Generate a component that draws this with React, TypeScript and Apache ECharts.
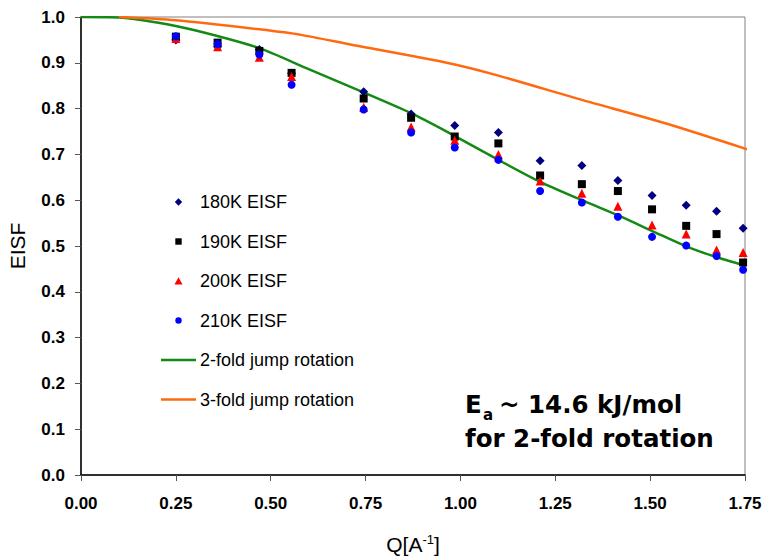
import React, { useEffect, useRef } from "react";
import * as echarts from "echarts";

const qValues = [0.25, 0.36, 0.47, 0.555, 0.745, 0.87, 0.985, 1.1, 1.21, 1.32, 1.415, 1.505, 1.595, 1.675, 1.745];
const eisf180 = [0.95, 0.935, 0.929, 0.877, 0.837, 0.788, 0.763, 0.748, 0.686, 0.676, 0.643, 0.61, 0.589, 0.576, 0.539];
const eisf190 = [0.957, 0.944, 0.926, 0.878, 0.822, 0.78, 0.739, 0.724, 0.654, 0.635, 0.62, 0.58, 0.544, 0.526, 0.464];
const eisf200 = [0.953, 0.935, 0.912, 0.87, 0.803, 0.76, 0.731, 0.7, 0.642, 0.615, 0.587, 0.546, 0.526, 0.491, 0.486];
const eisf210 = [0.958, 0.941, 0.918, 0.852, 0.798, 0.748, 0.715, 0.688, 0.62, 0.595, 0.564, 0.52, 0.501, 0.478, 0.448];

const twoFoldQ = [0, 0.1, 0.2, 0.3, 0.47, 0.6, 0.74, 0.87, 0.97, 1.1, 1.21, 1.32, 1.42, 1.51, 1.59, 1.67, 1.75];
const twoFoldV = [1.0, 0.999, 0.988, 0.971, 0.932, 0.886, 0.837, 0.79, 0.747, 0.688, 0.64, 0.6, 0.565, 0.531, 0.501, 0.477, 0.457];

const threeFoldQ = [0.1, 0.25, 0.47, 0.58, 0.71, 0.97, 1.1, 1.32, 1.54, 1.76];
const threeFoldV = [1.0, 0.993, 0.973, 0.961, 0.94, 0.899, 0.872, 0.819, 0.768, 0.71];

const seriesNames = ["180K EISF", "190K EISF", "200K EISF", "210K EISF", "2-fold jump rotation", "3-fold jump rotation"];

const zip = (xs: number[], ys: number[]) => xs.map((x, i) => [x, ys[i]]);

const FONT = "'Liberation Sans', Arial, sans-serif";
const NOTE_FONT = "'DejaVu Sans'";

// legend icons: leading moveTo points fix the icon box to 35x8 so the symbols are not stretched
const BOX = "path://M0 0 M35 8 ";
const legendIcons = [
  BOX + "M17.5 0.3 L21.2 4 L17.5 7.7 L13.8 4 Z",
  BOX + "M14.3 0.8 L20.7 0.8 L20.7 7.2 L14.3 7.2 Z",
  BOX + "M17.5 0.3 L21.5 7.6 L13.5 7.6 Z",
  BOX + "M14.3 4 A3.2 3.2 0 1 0 20.7 4 A3.2 3.2 0 1 0 14.3 4 Z",
  BOX + "M0 2.7 L35 2.7 L35 5.3 L0 5.3 Z",
  BOX + "M0 2.7 L35 2.7 L35 5.3 L0 5.3 Z",
];

export default function App() {
  const ref = useRef<HTMLDivElement>(null);
  useEffect(() => {
    if (!ref.current) return;
    const chart = echarts.init(ref.current, null, { renderer: "svg" });
    const scatter = (name: string, data: number[], symbol: string, color: string, size: number) => ({
      name,
      type: "scatter",
      data: zip(qValues, data),
      symbol,
      symbolSize: size,
      itemStyle: { color, opacity: 1 },
      z: 3,
    });
    const noteStyle = (text: string, size: number, lh: number) => ({
      text,
      fontSize: size,
      lineHeight: lh,
      fontWeight: "bold",
      fontFamily: NOTE_FONT,
      fill: "#000",
    });
    chart.setOption({
      animation: false,
      backgroundColor: "#ffffff",
      grid: {
        left: 81,
        right: 19,
        top: 17,
        bottom: 84,
        show: true,
        borderColor: "#808080",
        borderWidth: 1,
        outerBoundsMode: "none",
        containLabel: false,
      },
      legend: {
        orient: "vertical",
        left: 156,
        top: 187,
        itemWidth: 35,
        itemHeight: 8,
        itemGap: 19.5,
        selectedMode: false,
        data: seriesNames.map((n, i) => ({ name: n, icon: legendIcons[i] })),
        textStyle: { fontSize: 18, lineHeight: 20, color: "#000", fontFamily: FONT, padding: [0, 0, 0, -1] },
      },
      xAxis: {
        type: "value",
        min: 0,
        max: 1.75,
        interval: 0.25,
        name: "{a|Q[A}{s|-1}{a|]}",
        nameLocation: "middle",
        nameGap: 58,
        nameTextStyle: {
          rich: {
            a: { fontSize: 21, fontFamily: FONT, color: "#000" },
            s: { fontSize: 13, fontFamily: FONT, color: "#000", padding: [0, 0, 9, 0] },
          },
        },
        axisLine: { show: true, lineStyle: { color: "#000", width: 1.5 } },
        axisTick: { show: true, inside: false, length: 6, lineStyle: { color: "#555" } },
        splitLine: { show: false },
        axisLabel: {
          margin: 20,
          fontSize: 17,
          fontWeight: "bold",
          color: "#000",
          fontFamily: FONT,
          formatter: (v: number) => v.toFixed(2),
        },
      },
      yAxis: {
        type: "value",
        min: 0,
        max: 1,
        interval: 0.1,
        name: "EISF",
        nameLocation: "middle",
        nameGap: 53,
        nameRotate: 90,
        nameTextStyle: { fontSize: 21, fontFamily: FONT, color: "#000" },
        axisLine: { show: true, lineStyle: { color: "#000", width: 1.5 } },
        axisTick: { show: true, inside: false, length: 6, lineStyle: { color: "#555" } },
        splitLine: { show: false },
        axisLabel: {
          margin: 16,
          fontSize: 17,
          fontWeight: "bold",
          color: "#000",
          fontFamily: FONT,
          formatter: (v: number) => v.toFixed(1),
        },
      },
      series: [
        scatter(seriesNames[0], eisf180, "diamond", "#000080", 9),
        scatter(seriesNames[1], eisf190, "rect", "#000000", 8),
        scatter(seriesNames[2], eisf200, "triangle", "#ff0000", 9),
        scatter(seriesNames[3], eisf210, "circle", "#0000ff", 8),
        {
          name: seriesNames[4],
          type: "line",
          data: zip(twoFoldQ, twoFoldV),
          showSymbol: false,
          symbol: "none",
          smooth: 0.25,
          lineStyle: { color: "#138a13", width: 2.5 },
          itemStyle: { color: "#138a13" },
          z: 2,
        },
        {
          name: seriesNames[5],
          type: "line",
          data: zip(threeFoldQ, threeFoldV),
          showSymbol: false,
          symbol: "none",
          smooth: 0.25,
          lineStyle: { color: "#ff6a10", width: 2.5 },
          itemStyle: { color: "#ff6a10" },
          z: 2,
        },
      ],
      graphic: [
        { type: "text", left: 465, top: 392, style: noteStyle("E", 24.5, 24.5) },
        { type: "text", left: 483, top: 407.5, style: noteStyle("a", 15, 10) },
        { type: "text", left: 499, top: 392, style: noteStyle("~ 14.6 kJ/mol", 24.5, 24.5) },
        { type: "text", left: 465, top: 425.5, style: noteStyle("for 2-fold rotation", 24.5, 24.5) },
      ],
    });
    return () => chart.dispose();
  }, []);
  return (
    <div
      ref={ref}
      style={{ position: "fixed", left: 0, top: 0, width: 764, height: 559, background: "#fff" }}
    />
  );
}
